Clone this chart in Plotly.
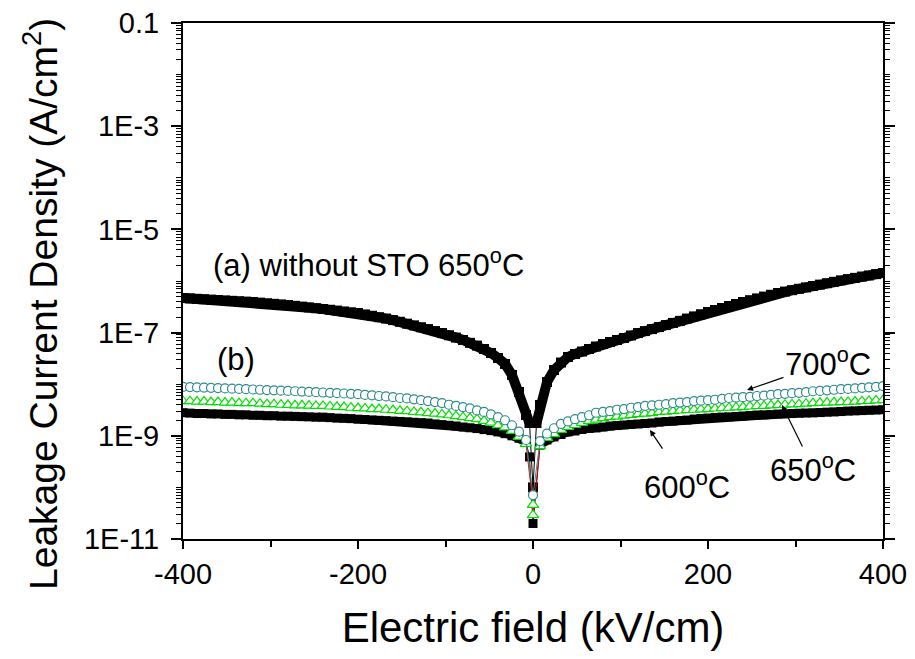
import plotly.graph_objects as go

# ---------------- data ----------------
field_kv = [-400, -392, -384, -376, -368, -360, -352, -344, -336, -328,
            -320, -312, -304, -296, -288, -280, -272, -264, -256, -248,
            -240, -232, -224, -216, -208, -200, -192, -184, -176, -168,
            -160, -152, -144, -136, -128, -120, -112, -104, -96, -88,
            -80, -72, -64, -56, -48, -40, -32, -24, -16, -8,
            0,
            8, 16, 24, 32, 40, 48, 56, 64, 72, 80,
            88, 96, 104, 112, 120, 128, 136, 144, 152, 160,
            168, 176, 184, 192, 200, 208, 216, 224, 232, 240,
            248, 256, 264, 272, 280, 288, 296, 304, 312, 320,
            328, 336, 344, 352, 360, 368, 376, 384, 392, 400]

# (a) without STO, 650 C
j_nosto = [4.69e-7, 4.60e-7, 4.52e-7, 4.44e-7, 4.36e-7, 4.28e-7, 4.21e-7, 4.13e-7, 4.06e-7, 3.99e-7,
           3.92e-7, 3.81e-7, 3.71e-7, 3.61e-7, 3.52e-7, 3.43e-7, 3.30e-7, 3.19e-7, 3.08e-7, 2.97e-7,
           2.87e-7, 2.77e-7, 2.67e-7, 2.57e-7, 2.48e-7, 2.40e-7, 2.25e-7, 2.12e-7, 1.99e-7, 1.87e-7,
           1.75e-7, 1.62e-7, 1.49e-7, 1.38e-7, 1.27e-7, 1.17e-7, 1.07e-7, 9.8e-8, 8.9e-8, 8.0e-8,
           7.19e-8, 6.34e-8, 5.6e-8, 4.81e-8, 4.03e-8, 3.22e-8, 2.47e-8, 1.51e-8, 7.06e-9, 2.53e-9,
           1.0e-10,
           3.95e-9, 1.10e-8, 1.88e-8, 2.63e-8, 3.37e-8, 3.85e-8, 4.30e-8, 4.81e-8, 5.38e-8, 6.0e-8,
           6.58e-8, 7.19e-8, 7.86e-8, 8.79e-8, 9.8e-8, 1.07e-7, 1.17e-7, 1.28e-7, 1.40e-7, 1.54e-7,
           1.69e-7, 1.87e-7, 2.06e-7, 2.27e-7, 2.51e-7, 2.74e-7, 3.0e-7, 3.28e-7, 3.58e-7, 3.92e-7,
           4.25e-7, 4.60e-7, 4.99e-7, 5.41e-7, 5.85e-7, 6.24e-7, 6.64e-7, 7.06e-7, 7.52e-7, 8.0e-7,
           8.51e-7, 9.06e-7, 9.64e-7, 1.03e-6, 1.09e-6, 1.15e-6, 1.22e-6, 1.28e-6, 1.36e-6, 1.43e-6]
nosto_extra_kv = [-4, 4]
nosto_extra_j = [1.77e-9, 1.77e-9]

# (b) 600 C
j_600 = [2.8e-9, 2.75e-9, 2.7e-9, 2.7e-9, 2.65e-9, 2.65e-9, 2.6e-9, 2.6e-9, 2.55e-9, 2.55e-9,
         2.5e-9, 2.5e-9, 2.45e-9, 2.45e-9, 2.4e-9, 2.4e-9, 2.38e-9, 2.35e-9, 2.33e-9, 2.3e-9,
         2.3e-9, 2.25e-9, 2.2e-9, 2.18e-9, 2.15e-9, 2.1e-9, 2.07e-9, 2.03e-9, 2.0e-9, 1.97e-9,
         1.93e-9, 1.9e-9, 1.87e-9, 1.83e-9, 1.8e-9, 1.77e-9, 1.7e-9, 1.65e-9, 1.6e-9, 1.55e-9,
         1.48e-9, 1.43e-9, 1.38e-9, 1.32e-9, 1.26e-9, 1.19e-9, 1.1e-9, 1.0e-9, 9.0e-10, 7.5e-10,
         2.0e-11,
         6.6e-10, 8.3e-10, 9.5e-10, 1.06e-9, 1.19e-9, 1.24e-9, 1.33e-9, 1.39e-9, 1.42e-9, 1.48e-9,
         1.55e-9, 1.58e-9, 1.62e-9, 1.66e-9, 1.69e-9, 1.73e-9, 1.77e-9, 1.85e-9, 1.89e-9, 1.93e-9,
         1.98e-9, 2.02e-9, 2.11e-9, 2.16e-9, 2.21e-9, 2.26e-9, 2.31e-9, 2.33e-9, 2.37e-9, 2.42e-9,
         2.47e-9, 2.53e-9, 2.55e-9, 2.58e-9, 2.64e-9, 2.66e-9, 2.7e-9, 2.74e-9, 2.76e-9, 2.78e-9,
         2.82e-9, 2.87e-9, 2.9e-9, 2.95e-9, 3.02e-9, 3.04e-9, 3.08e-9, 3.13e-9, 3.16e-9, 3.2e-9]
j600_extra_kv = [-4]
j600_extra_j = [3.9e-10]

# (b) 650 C
j_650 = [4.7e-9, 4.7e-9, 4.6e-9, 4.6e-9, 4.5e-9, 4.5e-9, 4.4e-9, 4.4e-9, 4.3e-9, 4.3e-9,
         4.3e-9, 4.2e-9, 4.1e-9, 4.1e-9, 4.0e-9, 3.95e-9, 3.9e-9, 3.9e-9, 3.85e-9, 3.8e-9,
         3.8e-9, 3.7e-9, 3.65e-9, 3.6e-9, 3.5e-9, 3.45e-9, 3.4e-9, 3.3e-9, 3.3e-9, 3.2e-9,
         3.15e-9, 3.05e-9, 3.0e-9, 2.9e-9, 2.85e-9, 2.75e-9, 2.7e-9, 2.6e-9, 2.5e-9, 2.4e-9,
         2.3e-9, 2.2e-9, 2.1e-9, 1.95e-9, 1.8e-9, 1.6e-9, 1.45e-9, 1.25e-9, 9.5e-10, 7.0e-10,
         4.6e-11,
         6.3e-10, 9.1e-10, 1.08e-9, 1.3e-9, 1.48e-9, 1.62e-9, 1.77e-9, 1.93e-9, 2.05e-9, 2.21e-9,
         2.31e-9, 2.36e-9, 2.47e-9, 2.53e-9, 2.64e-9, 2.7e-9, 2.76e-9, 2.89e-9, 2.95e-9, 3.02e-9,
         3.09e-9, 3.16e-9, 3.2e-9, 3.25e-9, 3.3e-9, 3.38e-9, 3.46e-9, 3.5e-9, 3.55e-9, 3.61e-9,
         3.7e-9, 3.78e-9, 3.8e-9, 3.87e-9, 3.95e-9, 4.0e-9, 4.05e-9, 4.1e-9, 4.2e-9, 4.3e-9,
         4.35e-9, 4.4e-9, 4.45e-9, 4.5e-9, 4.52e-9, 4.6e-9, 4.7e-9, 4.75e-9, 4.85e-9, 4.94e-9]
j650_extra_kv = [0]
j650_extra_j = [2.9e-11]

# (b) 700 C
j_700 = [8.9e-9, 8.8e-9, 8.7e-9, 8.6e-9, 8.5e-9, 8.4e-9, 8.3e-9, 8.2e-9, 8.1e-9, 8.0e-9,
         7.9e-9, 7.8e-9, 7.7e-9, 7.6e-9, 7.5e-9, 7.4e-9, 7.3e-9, 7.2e-9, 7.1e-9, 7.0e-9,
         6.9e-9, 6.8e-9, 6.7e-9, 6.6e-9, 6.5e-9, 6.4e-9, 6.2e-9, 6.1e-9, 5.9e-9, 5.8e-9,
         5.6e-9, 5.4e-9, 5.3e-9, 5.1e-9, 4.9e-9, 4.7e-9, 4.5e-9, 4.3e-9, 4.0e-9, 3.8e-9,
         3.6e-9, 3.4e-9, 3.1e-9, 2.9e-9, 2.6e-9, 2.3e-9, 2.0e-9, 1.6e-9, 1.2e-9, 8.3e-10,
         7.1e-11,
         7.9e-10, 1.1e-9, 1.4e-9, 1.7e-9, 1.9e-9, 2.1e-9, 2.3e-9, 2.5e-9, 2.8e-9, 2.9e-9,
         3.0e-9, 3.2e-9, 3.3e-9, 3.5e-9, 3.6e-9, 3.8e-9, 3.9e-9, 4.0e-9, 4.1e-9, 4.3e-9,
         4.4e-9, 4.5e-9, 4.7e-9, 4.8e-9, 4.9e-9, 5.0e-9, 5.2e-9, 5.4e-9, 5.5e-9, 5.6e-9,
         5.7e-9, 5.9e-9, 6.0e-9, 6.2e-9, 6.4e-9, 6.5e-9, 6.7e-9, 6.8e-9, 7.0e-9, 7.3e-9,
         7.4e-9, 7.6e-9, 7.8e-9, 8.0e-9, 8.1e-9, 8.3e-9, 8.5e-9, 8.7e-9, 8.9e-9, 9.2e-9]

y_tick_vals = [1e-11, 1e-9, 1e-7, 1e-5, 1e-3, 1e-1]
y_tick_text = ["1E-11", "1E-9", "1E-7", "1E-5", "1E-3", "0.1"]
x_tick_vals = [-400, -200, 0, 200, 400]
x_tick_text = ["-400", "-200", "0", "200", "400"]

# ---------------- helpers ----------------
def merged(xs, ys, ex=(), ey=()):
    pts = sorted(zip(list(xs) + list(ex), list(ys) + list(ey)), key=lambda p: p[0])
    return [p[0] for p in pts], [p[1] for p in pts]

def branch(xs, ys, sign, min_abs):
    pts = [(a, b) for a, b in zip(xs, ys) if a * sign > 0 and abs(a) >= min_abs]
    return [p[0] for p in pts], [p[1] for p in pts]

# minor ticks: every unlabelled decade plus 2..9 inside each decade
y_minor_vals = []
for e in range(-11, -1):
    for d in range(1, 10):
        if d == 1 and (e % 2 != 0):
            continue  # labelled decades carry a major tick
        y_minor_vals.append(d * 10.0 ** e)

FONT = "Liberation Sans, Arial, sans-serif"
fig = go.Figure()

# (a) thick band + squares
xa, ya = merged(field_kv, j_nosto, nosto_extra_kv, nosto_extra_j)
for s in (-1, 1):
    bx, by = branch(xa, ya, s, 4)
    fig.add_trace(go.Scatter(x=bx, y=by, mode="lines", hoverinfo="skip",
                             line=dict(color="black", width=10)))
fig.add_trace(go.Scatter(x=xa, y=ya, mode="lines+markers",
                         line=dict(color="black", width=1),
                         marker=dict(symbol="square", size=10, color="black", line=dict(width=0))))

# 600 C band + squares
x6, y6 = merged(field_kv, j_600, j600_extra_kv, j600_extra_j)
for s in (-1, 1):
    bx, by = branch(x6, y6, s, 8)
    fig.add_trace(go.Scatter(x=bx, y=by, mode="lines", hoverinfo="skip",
                             line=dict(color="black", width=8)))
fig.add_trace(go.Scatter(x=x6, y=y6, mode="lines+markers",
                         line=dict(color="black", width=1),
                         marker=dict(symbol="square", size=9, color="black", line=dict(width=0))))

# 650 C open triangles
x5, y5 = merged(field_kv, j_650, j650_extra_kv, j650_extra_j)
fig.add_trace(go.Scatter(x=x5, y=y5, mode="lines+markers",
                         line=dict(color="red", width=1),
                         marker=dict(symbol="triangle-up", size=10, color="white",
                                     line=dict(color="#00E000", width=1.2))))

# 700 C open circles
fig.add_trace(go.Scatter(x=field_kv, y=j_700, mode="lines+markers",
                         line=dict(color="#2E8B8B", width=1),
                         marker=dict(symbol="circle", size=9, color="white",
                                     line=dict(color="#2E8B8B", width=1.2))))

# ---------------- text & arrows ----------------
def px2paper(px, py):
    return (px - 183) / 700.0, (539 - py) / 516.0

txt_font = dict(family=FONT, size=31, color="black")
plain_labels = [
    ("(a) without STO 650<sup>o</sup>C", 211, 263, "left"),
    ("(b)", 236, 359, "center"),
]
for t, px, py, anc in plain_labels:
    xp, yp = px2paper(px, py)
    fig.add_annotation(x=xp, y=yp, xref="paper", yref="paper", text=t,
                       showarrow=False, xanchor=anc, yanchor="middle", font=txt_font)

# label text centre (px), arrow head (px), gap left at the tail
arrow_labels = [
    ("700<sup>o</sup>C", (828, 362), (747, 390), 0),
    ("650<sup>o</sup>C", (813, 468), (782, 405), 0),
    ("600<sup>o</sup>C", (687, 485), (650, 430), 18),
]
for t, (cx, cy), (hx, hy), gap in arrow_labels:
    xp, yp = px2paper(hx, hy)
    fig.add_annotation(x=xp, y=yp, xref="paper", yref="paper", text=t,
                       showarrow=True, ax=cx - hx, ay=cy - hy,
                       arrowhead=2, arrowsize=1, arrowwidth=1.2, arrowcolor="black",
                       startstandoff=gap, font=txt_font)

# y-axis title as a rotated annotation (it is offset downward in the original)
yt_x, yt_y = px2paper(40, 304)
fig.add_annotation(x=yt_x, y=yt_y, xref="paper", yref="paper",
                   text="Leakage Current Density (A/cm<sup>2</sup>)", textangle=-90,
                   showarrow=False, xanchor="center", yanchor="middle",
                   font=dict(family=FONT, size=39, color="black"))

# page has an 8px body margin: figure 899x643 puts the plot area at x 183..883, y 23..539
fig.update_layout(
    width=899, height=643,
    margin=dict(l=175, r=24, t=15, b=112, autoexpand=False),
    paper_bgcolor="white", plot_bgcolor="white",
    showlegend=False,
    font=dict(family=FONT, color="black"),
)
fig.update_xaxes(range=[-400, 400], tickvals=x_tick_vals, ticktext=x_tick_text,
                 automargin=False,
                 ticks="outside", ticklen=8, tickwidth=1.5, tickcolor="black",
                 ticklabeloverflow="allow",
                 minor=dict(dtick=100, tick0=0, ticks="outside", ticklen=6, tickwidth=1.5, tickcolor="black"),
                 showline=True, linecolor="black", linewidth=2, mirror=True,
                 showgrid=False, zeroline=False,
                 tickfont=dict(family=FONT, size=29),
                 title=dict(text="Electric field (kV/cm)", font=dict(family=FONT, size=42), standoff=24))
fig.update_yaxes(type="log", range=[-11, -1], tickvals=y_tick_vals, ticktext=y_tick_text,
                 automargin=False,
                 ticks="outside", ticklen=10, tickwidth=1.5, tickcolor="black",
                 ticklabelstandoff=6, ticklabeloverflow="allow",
                 minor=dict(tickmode="array", tickvals=y_minor_vals, ticks="outside",
                            ticklen=5, tickwidth=1, tickcolor="black"),
                 showline=True, linecolor="black", linewidth=2, mirror="allticks",
                 showgrid=False, zeroline=False,
                 tickfont=dict(family=FONT, size=29))

fig.write_html("out.html")
